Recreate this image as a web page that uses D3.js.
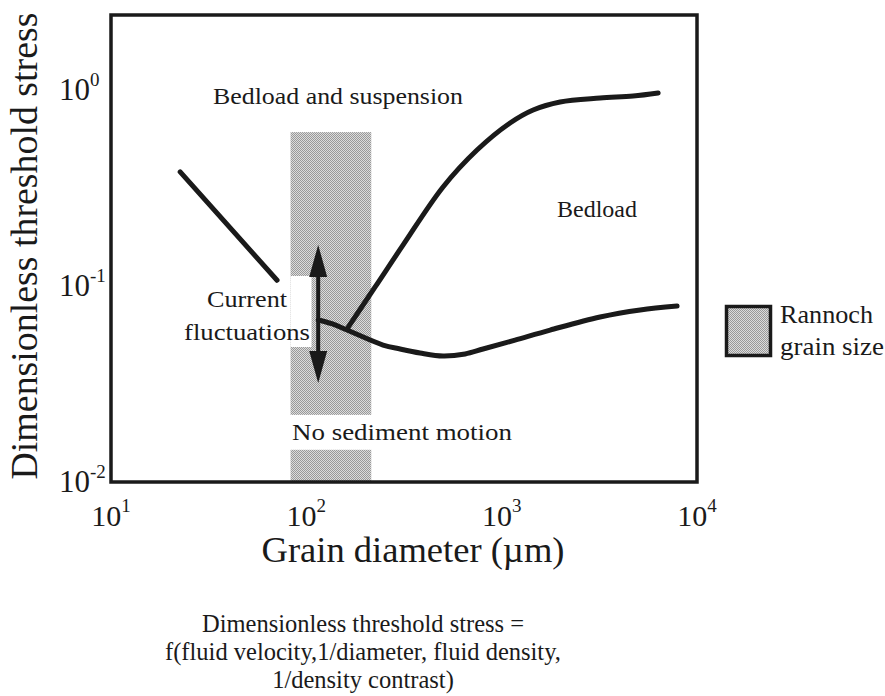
<!DOCTYPE html>
<html>
<head>
<meta charset="utf-8">
<script src="https://cdn.jsdelivr.net/npm/d3@7"></script>
<style>
  html, body { margin: 0; padding: 0; background: #fff; }
  svg { display: block; }
  text { font-family: "Liberation Serif", "Times New Roman", Times, serif; fill: #1a1a1a; }
</style>
</head>
<body>
<svg id="chart" width="885" height="696"></svg>
<script>
// Threshold of sediment motion versus grain diameter (log-log)
const xTicks = [10, 100, 1000, 10000];
const xTickExp = ["1", "2", "3", "4"];
const yTicks = [0.01, 0.1, 1];
const yTickExp = ["-2", "-1", "0"];

// Rannoch grain-size range (µm) and the shaded bands (stress values)
const rannochRange = [83, 215];
const rannochBands = [[0.022, 0.61], [0.01, 0.0146]];

// Fine-grain suspension branch (left)
const suspensionLine = [
  { d: 22.6, s: 0.382 },
  { d: 70.8, s: 0.107 }
];

// Lower threshold curve (onset of motion)
const thresholdCurve = [
  { d: 115, s: 0.0671 },
  { d: 135, s: 0.0642 },
  { d: 161.6, s: 0.0596 },
  { d: 247, s: 0.0500 },
  { d: 302, s: 0.0477 },
  { d: 382, s: 0.0455 },
  { d: 501, s: 0.0439 },
  { d: 650, s: 0.0450 },
  { d: 803, s: 0.0477 },
  { d: 1171, s: 0.0530 },
  { d: 1770, s: 0.0596 },
  { d: 3190, s: 0.0695 },
  { d: 5116, s: 0.0755 },
  { d: 7907, s: 0.0791 }
];

// Upper curve (bedload / suspension boundary)
const suspensionCurve = [
  { d: 161.6, s: 0.0605 },
  { d: 225, s: 0.0989 },
  { d: 313, s: 0.162 },
  { d: 501, s: 0.320 },
  { d: 748, s: 0.494 },
  { d: 1104, s: 0.679 },
  { d: 1449, s: 0.791 },
  { d: 1991, s: 0.869 },
  { d: 3190, s: 0.910 },
  { d: 4710, s: 0.932 },
  { d: 6324, s: 0.966 }
];

// Current-fluctuation double arrow
const fluctuation = { d: 115, lo: 0.032, hi: 0.162 };

const svg = d3.select("#chart");
const ink = "#1a1a1a";

const x = d3.scaleLog().domain([10, 10000]).range([111, 697]);
const y = d3.scaleLog().domain([0.01, 2.414]).range([482, 15]);

// dithered grey fill
const defs = svg.append("defs");
const pat = defs.append("pattern")
  .attr("id", "dither").attr("width", 2).attr("height", 2)
  .attr("patternUnits", "userSpaceOnUse");
pat.append("rect").attr("width", 2).attr("height", 2).attr("fill", "#dcdcdc");
pat.append("rect").attr("x", 0).attr("y", 0).attr("width", 1).attr("height", 1).attr("fill", "#999999");
pat.append("rect").attr("x", 1).attr("y", 1).attr("width", 1).attr("height", 1).attr("fill", "#999999");

// shaded Rannoch bands
svg.append("g").selectAll("rect").data(rannochBands).join("rect")
  .attr("x", x(rannochRange[0]))
  .attr("width", x(rannochRange[1]) - x(rannochRange[0]))
  .attr("y", d => y(d[1]))
  .attr("height", d => y(d[0]) - y(d[1]))
  .attr("fill", "url(#dither)");

// white knockout behind "Current fluctuations"
svg.append("rect")
  .attr("x", x(rannochRange[0])).attr("y", 276)
  .attr("width", 21).attr("height", 71)
  .attr("fill", "#fff");

// curves
const line = d3.line().x(p => x(p.d)).y(p => y(p.s));
const smooth = d3.line().x(p => x(p.d)).y(p => y(p.s)).curve(d3.curveCatmullRom.alpha(0.5));

svg.append("path").datum(suspensionLine).attr("d", line)
  .attr("fill", "none").attr("stroke", ink).attr("stroke-width", 5).attr("stroke-linecap", "round");
svg.append("path").datum(thresholdCurve).attr("d", smooth)
  .attr("fill", "none").attr("stroke", ink).attr("stroke-width", 5).attr("stroke-linecap", "round");
svg.append("path").datum(suspensionCurve).attr("d", smooth)
  .attr("fill", "none").attr("stroke", ink).attr("stroke-width", 5).attr("stroke-linecap", "round");

// double arrow
const ax = x(fluctuation.d), aTop = y(fluctuation.hi), aBot = y(fluctuation.lo);
const headL = 32, headW = 9;
svg.append("line")
  .attr("x1", ax).attr("x2", ax).attr("y1", aTop + headL - 2).attr("y2", aBot - headL + 2)
  .attr("stroke", ink).attr("stroke-width", 4);
svg.append("path")
  .attr("d", `M${ax},${aTop} L${ax + headW},${aTop + headL} L${ax - headW},${aTop + headL} Z`)
  .attr("fill", ink);
svg.append("path")
  .attr("d", `M${ax},${aBot} L${ax + headW},${aBot - headL} L${ax - headW},${aBot - headL} Z`)
  .attr("fill", ink);

// frame
svg.append("rect")
  .attr("x", x(10)).attr("y", y(2.414))
  .attr("width", x(10000) - x(10)).attr("height", y(0.01) - y(2.414))
  .attr("fill", "none").attr("stroke", ink).attr("stroke-width", 3.5);

// tick labels with superscripts
const xl = svg.append("g");
xTicks.forEach((t, i) => {
  const txt = xl.append("text").attr("x", x(t)).attr("y", 526)
    .attr("text-anchor", "middle").attr("font-size", 30);
  txt.append("tspan").text("10");
  txt.append("tspan").attr("font-size", 19).attr("dy", -14).text(xTickExp[i]);
});
const yl = svg.append("g");
yTicks.forEach((t, i) => {
  const txt = yl.append("text").attr("x", 59).attr("y", y(t) + 10)
    .attr("text-anchor", "start").attr("font-size", 31);
  txt.append("tspan").text("10");
  txt.append("tspan").attr("font-size", 19).attr("dy", -14).text(yTickExp[i]);
});

// axis titles
svg.append("text")
  .attr("transform", "translate(37,246) rotate(-90)")
  .attr("text-anchor", "middle").attr("font-size", 37.5)
  .attr("textLength", 467).attr("lengthAdjust", "spacingAndGlyphs")
  .text("Dimensionless threshold stress");
svg.append("text")
  .attr("x", 413).attr("y", 562)
  .attr("text-anchor", "middle").attr("font-size", 35.5)
  .attr("textLength", 303).attr("lengthAdjust", "spacingAndGlyphs")
  .text("Grain diameter (\u00b5m)");

// region annotations
const notes = [
  { t: "Bedload and suspension", x: 213, y: 104, w: 250 },
  { t: "Bedload", x: 557, y: 217, w: 80 },
  { t: "Current", x: 207, y: 307, w: 80 },
  { t: "fluctuations", x: 184, y: 340, w: 126 },
  { t: "No sediment motion", x: 292, y: 440, w: 220 }
];
svg.append("g").selectAll("text").data(notes).join("text")
  .attr("x", d => d.x).attr("y", d => d.y)
  .attr("font-size", 24)
  .attr("textLength", d => d.w).attr("lengthAdjust", "spacingAndGlyphs")
  .text(d => d.t);

// legend
svg.append("rect")
  .attr("x", 726.5).attr("y", 306.5).attr("width", 44).attr("height", 49)
  .attr("fill", "url(#dither)").attr("stroke", ink).attr("stroke-width", 3.5);
svg.append("text").attr("x", 780).attr("y", 323).attr("font-size", 25)
  .attr("textLength", 93).attr("lengthAdjust", "spacingAndGlyphs").text("Rannoch");
svg.append("text").attr("x", 780).attr("y", 355).attr("font-size", 25)
  .attr("textLength", 104).attr("lengthAdjust", "spacingAndGlyphs").text("grain size");

// definition note under the chart
const defLines = [
  "Dimensionless threshold stress =",
  "f(fluid velocity,1/diameter, fluid density,",
  "1/density contrast)"
];
svg.append("g").selectAll("text").data(defLines).join("text")
  .attr("x", 363).attr("y", (d, i) => 632 + i * 28)
  .attr("text-anchor", "middle").attr("font-size", 24.5)
  .text(d => d);
</script>
</body>
</html>
